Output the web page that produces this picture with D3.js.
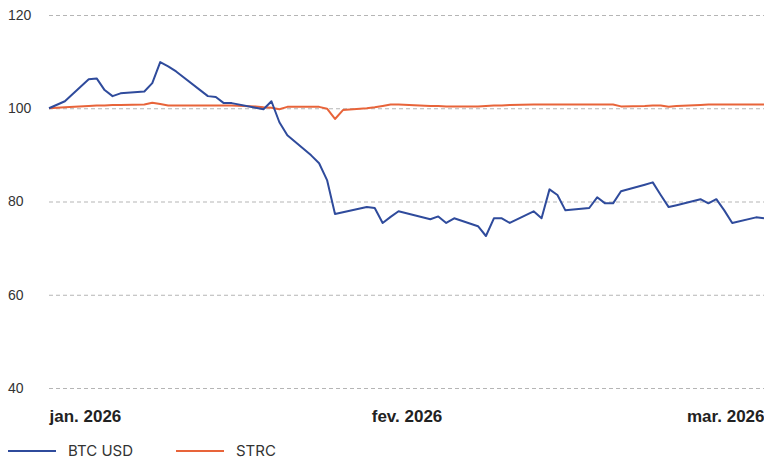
<!DOCTYPE html>
<html>
<head>
<meta charset="utf-8">
<script src="https://cdn.jsdelivr.net/npm/d3@7"></script>
<style>
	body	{ margin:0; background:#fff; }
	svg	{ display:block; font-family:"Inter", "Noto Sans", sans-serif; }
</style>
</head>
<body>
<svg id="chart" width="764" height="459"></svg>
<script>
// trading days, dec 31 2025 -> mar 31 2026
var dates = ["2025-12-31","2026-01-02","2026-01-05","2026-01-06","2026-01-07","2026-01-08","2026-01-09",
	"2026-01-12","2026-01-13","2026-01-14","2026-01-15","2026-01-16","2026-01-20","2026-01-21","2026-01-22","2026-01-23",
	"2026-01-26","2026-01-27","2026-01-28","2026-01-29","2026-01-30","2026-02-02","2026-02-03","2026-02-04","2026-02-05","2026-02-06",
	"2026-02-09","2026-02-10","2026-02-11","2026-02-12","2026-02-13","2026-02-17","2026-02-18","2026-02-19","2026-02-20",
	"2026-02-23","2026-02-24","2026-02-25","2026-02-26","2026-02-27","2026-03-02","2026-03-03","2026-03-04","2026-03-05","2026-03-06",
	"2026-03-09","2026-03-10","2026-03-11","2026-03-12","2026-03-13","2026-03-16","2026-03-17","2026-03-18","2026-03-19","2026-03-20",
	"2026-03-23","2026-03-24","2026-03-25","2026-03-26","2026-03-27","2026-03-30","2026-03-31"];
var btc = [100.0,101.5,106.2,106.4,103.9,102.6,103.2,
	103.6,105.4,109.9,109.0,107.9,102.6,102.4,101.1,101.1,
	100.1,99.8,101.5,97.0,94.2,89.9,88.2,84.6,77.3,77.7,
	78.8,78.6,75.4,76.7,77.9,76.2,76.8,75.4,76.4,
	74.7,72.6,76.4,76.4,75.4,77.9,76.4,82.6,81.4,78.1,
	78.6,80.9,79.6,79.6,82.2,83.6,84.1,81.4,78.8,79.2,
	80.5,79.6,80.5,78.1,75.4,76.6,76.4];
var strc = [100.0,100.2,100.5,100.6,100.6,100.7,100.7,
	100.8,101.2,100.9,100.6,100.6,100.6,100.6,100.6,100.6,
	100.4,100.2,100.1,99.8,100.3,100.3,100.3,99.9,97.7,99.6,
	100.0,100.2,100.5,100.8,100.8,100.5,100.5,100.4,100.4,
	100.4,100.5,100.6,100.6,100.7,100.8,100.8,100.8,100.8,100.8,
	100.8,100.8,100.8,100.8,100.4,100.5,100.6,100.6,100.3,100.5,
	100.7,100.8,100.8,100.8,100.8,100.8,100.8];
var seriesNames	= ["BTC USD","STRC"];
var seriesColors	= ["#2f4b9c","#e8643a"];
var yTicks	= [40,60,80,100,120];
var xTickLabels	= ["jan. 2026","fev. 2026","mar. 2026"];

var parse = d3.timeParse("%Y-%m-%d");
var days = dates.map(parse);
var series = [btc, strc].map(function(v, i) {
	return { name: seriesNames[i], color: seriesColors[i], values: v.map(function(d, j) { return { date: days[j], value: d }; }) };
});

var svg = d3.select("#chart");
var x = d3.scaleTime().domain(d3.extent(days)).range([49, 764]);
var y = d3.scaleLinear().domain([40, 120]).range([388, 15]);

// grid + y labels
var yAxis = svg.append("g").attr("class","y-axis")
	.call(d3.axisRight(y).tickValues(yTicks).tickSize(715).tickFormat(d3.format("d")))
	.attr("transform","translate(49,0)");
yAxis.select(".domain").remove();
yAxis.selectAll(".tick line").attr("stroke","#b5b5b5").attr("stroke-dasharray","4,3").attr("stroke-width",1);
yAxis.selectAll(".tick text").attr("x",-41).attr("text-anchor","start")
	.attr("fill","#333").style("font-size","14px");

// x labels : start / middle / end of the range
var xd = x.domain();
var xTicks = [xd[0], new Date((+xd[0] + +xd[1]) / 2), xd[1]];
var anchors = ["start","middle","end"];
var xAxis = svg.append("g").attr("class","x-axis").attr("transform","translate(0,388)")
	.call(d3.axisBottom(x).tickValues(xTicks).tickSize(0).tickFormat(function(d, i) { return xTickLabels[i]; }));
xAxis.select(".domain").remove();
xAxis.selectAll(".tick text").attr("y",28).attr("dy","0.35em")
	.attr("text-anchor", function(d, i) { return anchors[i]; })
	.attr("fill","#222").style("font-size","17px").style("font-weight","700");

// lines
var line = d3.line().x(function(d) { return x(d.date); }).y(function(d) { return y(d.value); });
svg.selectAll("path.serie").data(series.slice().reverse()).enter().append("path")
	.attr("class","serie")
	.attr("fill","none")
	.attr("stroke", function(d) { return d.color; })
	.attr("stroke-width",2)
	.attr("stroke-linejoin","round")
	.attr("d", function(d) { return line(d.values); });

// legend
var legend = svg.append("g").attr("class","legend").attr("transform","translate(8,451)");
var item = legend.selectAll("g").data(series).enter().append("g")
	.attr("transform", function(d, i) { return "translate(" + (i * 168) + ",0)"; });
item.append("line").attr("x1",0).attr("x2",48).attr("y1",0).attr("y2",0)
	.attr("stroke", function(d) { return d.color; }).attr("stroke-width",2);
item.append("text").attr("x",60).attr("dy","0.35em")
	.attr("fill","#333").style("font-size","15px").text(function(d) { return d.name; });
</script>
</body>
</html>
